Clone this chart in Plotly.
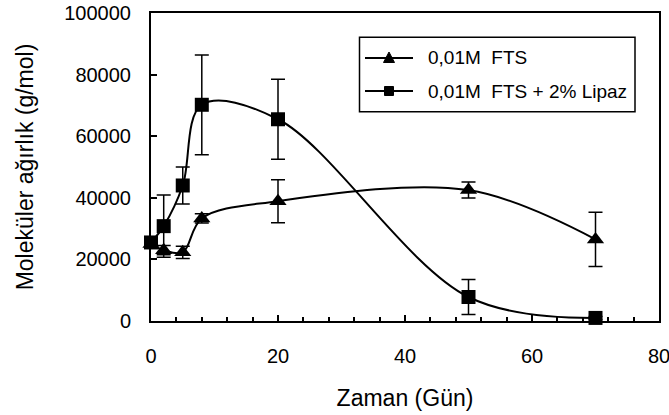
import plotly.graph_objects as go

days = [0, 2, 5, 8, 20, 50, 70]
fts = [25000, 23000, 22300, 33300, 38900, 42500, 26500]
fts_err = [1000, 1500, 2000, 1500, 7000, 2600, 8800]
lipaz = [25500, 30800, 44000, 70200, 65500, 7800, 1000]
lipaz_err = [1500, 10100, 6000, 16200, 13000, 5700, 500]
series_names = ["0,01M\u00a0 FTS", "0,01M\u00a0 FTS + 2% Lipaz"]

FONT = "Liberation Sans, Arial, sans-serif"

fig = go.Figure()
fig.add_trace(go.Scatter(
    x=days, y=fts, name=series_names[0], mode="lines+markers",
    line=dict(color="black", width=2, shape="spline", smoothing=1),
    marker=dict(symbol="triangle-up", size=15, color="black"),
    error_y=dict(type="data", array=fts_err, visible=True, color="black", thickness=1.5, width=7),
    cliponaxis=False, showlegend=False))
fig.add_trace(go.Scatter(
    x=days, y=lipaz, name=series_names[1], mode="lines+markers",
    line=dict(color="black", width=2, shape="spline", smoothing=1),
    marker=dict(symbol="square", size=14, color="black"),
    error_y=dict(type="data", array=lipaz_err, visible=True, color="black", thickness=1.5, width=7),
    cliponaxis=False, showlegend=False))

# Legend drawn as a framed box (paper coordinates of the plot area)
PX0, PW, PY0, PH = 151, 508, 321, 308
def px(x):
    return (x - PX0) / PW
def py(y):
    return (PY0 - y) / PH

shapes = [dict(type="rect", xref="paper", yref="paper",
               x0=px(359.5), x1=px(635), y0=py(111.7), y1=py(37.3),
               line=dict(color="black", width=1.5), fillcolor="white", layer="above")]
annotations = []
rows = [58, 91]
for i, (name, yy) in enumerate(zip(series_names, rows)):
    shapes.append(dict(type="line", xref="paper", yref="paper",
                       x0=px(365), x1=px(413), y0=py(yy), y1=py(yy),
                       line=dict(color="black", width=2), layer="above"))
    cx = px(389)
    if i == 0:
        path = "M {a},{b} L {c},{b} L {d},{e} Z".format(
            a=px(383.5), c=px(394.5), b=py(yy + 4.5), d=cx, e=py(yy - 6))
        shapes.append(dict(type="path", xref="paper", yref="paper", path=path,
                           fillcolor="black", line=dict(color="black", width=1), layer="above"))
    else:
        shapes.append(dict(type="rect", xref="paper", yref="paper",
                           x0=px(384.5), x1=px(393.5), y0=py(yy + 4.5), y1=py(yy - 4.5),
                           fillcolor="black", line=dict(color="black", width=1), layer="above"))
    annotations.append(dict(xref="paper", yref="paper", x=px(426), y=py(yy),
                            xanchor="left", yanchor="middle", showarrow=False,
                            text=name, font=dict(family=FONT, size=19, color="black")))

fig.update_layout(
    width=669, height=415,
    margin=dict(l=151, r=10, t=13, b=94, autoexpand=False),
    paper_bgcolor="white", plot_bgcolor="white",
    font=dict(family=FONT, size=19, color="black"),
    showlegend=False,
    shapes=shapes, annotations=annotations,
    xaxis_title_text="Zaman (Gün)",
    yaxis_title_text="Moleküler ağırlık (g/mol)",
)
fig.update_xaxes(range=[0, 80], tick0=0, dtick=20, automargin=False,
                 ticklabeloverflow="allow",
                 ticks="inside", ticklen=6, tickwidth=1.5, tickcolor="black",
                 minor=dict(tick0=0, dtick=4, ticks="inside", ticklen=4, tickwidth=1.5, tickcolor="black"),
                 showline=True, linecolor="black", linewidth=2, mirror=True,
                 showgrid=False, zeroline=False,
                 tickfont=dict(family=FONT, size=20, color="black"),
                 title_standoff=24,
                 ticklabelstandoff=16)
fig.update_yaxes(range=[0, 100000], tick0=0, dtick=20000, automargin=False,
                 ticklabeloverflow="allow",
                 ticks="inside", ticklen=6, tickwidth=1.5, tickcolor="black",
                 showline=True, linecolor="black", linewidth=2, mirror=True,
                 showgrid=False, zeroline=False, tickformat="d",
                 tickfont=dict(family=FONT, size=20, color="black"),
                 title_standoff=24,
                 ticklabelstandoff=14)

fig.write_html("out.html")
